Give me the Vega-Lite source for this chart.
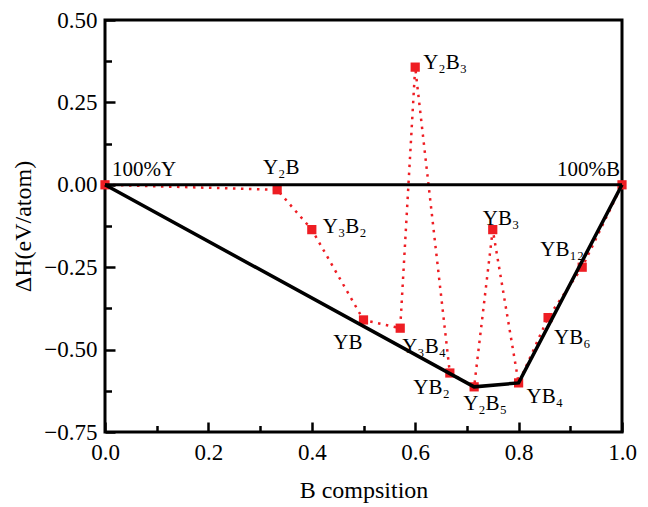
{
  "$schema": "https://vega.github.io/schema/vega-lite/v6.json",
  "autosize": {"type": "none"},
  "padding": {"left": 105, "top": 20, "right": 26, "bottom": 75},
  "width": 517,
  "height": 412,
  "background": "white",
  "config": {
    "view": {"stroke": "black", "strokeWidth": 3},
    "font": "Liberation Serif",
    "axis": {
      "grid": false,
      "domain": false,
      "labelFlush": false,
      "labelOverlap": false,
      "labelFont": "Liberation Serif",
      "labelFontSize": 23,
      "labelColor": "black",
      "titleFont": "Liberation Serif",
      "titleFontSize": 24,
      "titleFontWeight": "normal",
      "titleColor": "black"
    }
  },
  "datasets": {
    "pts": [
      {"i": 0, "name": "100%Y", "b": 0.0, "h": 0.0},
      {"i": 1, "name": "Y₂B", "b": 0.333, "h": -0.015},
      {"i": 2, "name": "Y₃B₂", "b": 0.4, "h": -0.136},
      {"i": 3, "name": "YB", "b": 0.5, "h": -0.41},
      {"i": 4, "name": "Y₃B₄", "b": 0.571, "h": -0.435},
      {"i": 5, "name": "Y₂B₃", "b": 0.6, "h": 0.357},
      {"i": 6, "name": "YB₂", "b": 0.667, "h": -0.571},
      {"i": 7, "name": "Y₂B₅", "b": 0.714, "h": -0.613},
      {"i": 8, "name": "YB₃", "b": 0.75, "h": -0.136},
      {"i": 9, "name": "YB₄", "b": 0.8, "h": -0.601},
      {"i": 10, "name": "YB₆", "b": 0.857, "h": -0.403},
      {"i": 11, "name": "YB₁₂", "b": 0.923, "h": -0.25},
      {"i": 12, "name": "100%B", "b": 1.0, "h": 0.0}
    ],
    "hull": [
      {"i": 0, "b": 0.0, "h": 0.0},
      {"i": 1, "b": 0.714, "h": -0.613},
      {"i": 2, "b": 0.8, "h": -0.601},
      {"i": 3, "b": 1.0, "h": 0.0}
    ]
  },
  "resolve": {"axis": {"x": "independent", "y": "independent"}},
  "layer": [
    {
      "data": {"name": "pts"},
      "mark": {"type": "line", "color": "#ee1d23", "strokeWidth": 2.5, "strokeDash": [2.5, 5.5], "clip": true},
      "encoding": {
        "x": {"field": "b", "type": "quantitative",
              "scale": {"domain": [0, 1], "nice": false, "zero": false},
              "axis": {"orient": "bottom", "zindex": 1, "values": [0, 0.2, 0.4, 0.6, 0.8, 1.0], "format": ".1f", "offset": -10, "ticks": true, "tickSize": 10, "tickWidth": 2.5, "tickColor": "black", "labelPadding": 9, "title": "B compsition", "titlePadding": 14}},
        "y": {"field": "h", "type": "quantitative",
              "scale": {"domain": [-0.75, 0.5], "nice": false, "zero": false},
              "axis": {"orient": "left", "zindex": 1, "values": [-0.75, -0.5, -0.25, 0, 0.25, 0.5], "format": ".2f", "offset": -10, "ticks": true, "tickSize": 10, "tickWidth": 2.5, "tickColor": "black", "labelPadding": 8, "title": "ΔH(eV/atom)", "titlePadding": 8}},
        "order": {"field": "i", "type": "quantitative"}
      }
    },
    {
      "data": {"name": "pts"},
      "mark": {"type": "square", "color": "#ee1d23", "opacity": 1, "size": 85},
      "encoding": {
        "x": {"field": "b", "type": "quantitative", "axis": null},
        "y": {"field": "h", "type": "quantitative", "axis": null}
      }
    },
    {
      "data": {"name": "hull"},
      "mark": {"type": "line", "color": "black", "strokeWidth": 3.5},
      "encoding": {
        "x": {"field": "b", "type": "quantitative",
              "axis": {"orient": "bottom", "zindex": 1, "values": [0.1, 0.3, 0.5, 0.7, 0.9], "labels": false, "ticks": true, "tickSize": 6.5, "tickWidth": 2.5, "tickColor": "black", "offset": -6.5, "title": null}},
        "y": {"field": "h", "type": "quantitative",
              "axis": {"orient": "left", "zindex": 1, "values": [-0.625, -0.375, -0.125, 0.125, 0.375], "labels": false, "ticks": true, "tickSize": 6.5, "tickWidth": 2.5, "tickColor": "black", "offset": -6.5, "title": null}},
        "order": {"field": "i", "type": "quantitative"}
      }
    },
    {
      "data": {"values": [{"h": 0}]},
      "mark": {"type": "rule", "color": "black", "strokeWidth": 3},
      "encoding": {
        "y": {"field": "h", "type": "quantitative", "axis": null}
      }
    },
    {
      "data": {"name": "pts"},
      "transform": [{"filter": {"field": "name", "equal": "100%Y"}}],
      "mark": {"type": "text", "align": "left", "baseline": "middle", "dx": 7, "dy": -15, "fontSize": 21, "color": "black"},
      "encoding": {"x": {"field": "b", "type": "quantitative", "axis": null}, "y": {"field": "h", "type": "quantitative", "axis": null}, "text": {"field": "name"}}
    },
    {
      "data": {"name": "pts"},
      "transform": [{"filter": {"field": "name", "equal": "100%B"}}],
      "mark": {"type": "text", "align": "right", "baseline": "middle", "dx": -2, "dy": -15, "fontSize": 21, "color": "black"},
      "encoding": {"x": {"field": "b", "type": "quantitative", "axis": null}, "y": {"field": "h", "type": "quantitative", "axis": null}, "text": {"field": "name"}}
    },
    {
      "data": {"name": "pts"},
      "transform": [{"filter": {"field": "name", "equal": "Y₂B"}}],
      "mark": {"type": "text", "align": "center", "baseline": "middle", "dx": 4, "dy": -22, "fontSize": 21, "color": "black"},
      "encoding": {"x": {"field": "b", "type": "quantitative", "axis": null}, "y": {"field": "h", "type": "quantitative", "axis": null}, "text": {"field": "name"}}
    },
    {
      "data": {"name": "pts"},
      "transform": [{"filter": {"field": "name", "equal": "Y₃B₂"}}],
      "mark": {"type": "text", "align": "left", "baseline": "middle", "dx": 11, "dy": -3, "fontSize": 21, "color": "black"},
      "encoding": {"x": {"field": "b", "type": "quantitative", "axis": null}, "y": {"field": "h", "type": "quantitative", "axis": null}, "text": {"field": "name"}}
    },
    {
      "data": {"name": "pts"},
      "transform": [{"filter": {"field": "name", "equal": "Y₂B₃"}}],
      "mark": {"type": "text", "align": "left", "baseline": "middle", "dx": 8, "dy": -4, "fontSize": 21, "color": "black"},
      "encoding": {"x": {"field": "b", "type": "quantitative", "axis": null}, "y": {"field": "h", "type": "quantitative", "axis": null}, "text": {"field": "name"}}
    },
    {
      "data": {"name": "pts"},
      "transform": [{"filter": {"field": "name", "equal": "YB₃"}}],
      "mark": {"type": "text", "align": "left", "baseline": "middle", "dx": -10, "dy": -11, "fontSize": 21, "color": "black"},
      "encoding": {"x": {"field": "b", "type": "quantitative", "axis": null}, "y": {"field": "h", "type": "quantitative", "axis": null}, "text": {"field": "name"}}
    },
    {
      "data": {"name": "pts"},
      "transform": [{"filter": {"field": "name", "equal": "YB₁₂"}}],
      "mark": {"type": "text", "align": "right", "baseline": "middle", "dx": 2, "dy": -17, "fontSize": 21, "color": "black"},
      "encoding": {"x": {"field": "b", "type": "quantitative", "axis": null}, "y": {"field": "h", "type": "quantitative", "axis": null}, "text": {"field": "name"}}
    },
    {
      "data": {"name": "pts"},
      "transform": [{"filter": {"field": "name", "equal": "YB"}}],
      "mark": {"type": "text", "align": "right", "baseline": "middle", "dx": -1, "dy": 23, "fontSize": 21, "color": "black"},
      "encoding": {"x": {"field": "b", "type": "quantitative", "axis": null}, "y": {"field": "h", "type": "quantitative", "axis": null}, "text": {"field": "name"}}
    },
    {
      "data": {"name": "pts"},
      "transform": [{"filter": {"field": "name", "equal": "Y₃B₄"}}],
      "mark": {"type": "text", "align": "left", "baseline": "middle", "dx": 2, "dy": 19, "fontSize": 21, "color": "black"},
      "encoding": {"x": {"field": "b", "type": "quantitative", "axis": null}, "y": {"field": "h", "type": "quantitative", "axis": null}, "text": {"field": "name"}}
    },
    {
      "data": {"name": "pts"},
      "transform": [{"filter": {"field": "name", "equal": "YB₂"}}],
      "mark": {"type": "text", "align": "right", "baseline": "middle", "dx": 0, "dy": 15, "fontSize": 21, "color": "black"},
      "encoding": {"x": {"field": "b", "type": "quantitative", "axis": null}, "y": {"field": "h", "type": "quantitative", "axis": null}, "text": {"field": "name"}}
    },
    {
      "data": {"name": "pts"},
      "transform": [{"filter": {"field": "name", "equal": "Y₂B₅"}}],
      "mark": {"type": "text", "align": "left", "baseline": "middle", "dx": -11, "dy": 17, "fontSize": 21, "color": "black"},
      "encoding": {"x": {"field": "b", "type": "quantitative", "axis": null}, "y": {"field": "h", "type": "quantitative", "axis": null}, "text": {"field": "name"}}
    },
    {
      "data": {"name": "pts"},
      "transform": [{"filter": {"field": "name", "equal": "YB₄"}}],
      "mark": {"type": "text", "align": "left", "baseline": "middle", "dx": 8, "dy": 14, "fontSize": 21, "color": "black"},
      "encoding": {"x": {"field": "b", "type": "quantitative", "axis": null}, "y": {"field": "h", "type": "quantitative", "axis": null}, "text": {"field": "name"}}
    },
    {
      "data": {"name": "pts"},
      "transform": [{"filter": {"field": "name", "equal": "YB₆"}}],
      "mark": {"type": "text", "align": "left", "baseline": "middle", "dx": 6, "dy": 20, "fontSize": 21, "color": "black"},
      "encoding": {"x": {"field": "b", "type": "quantitative", "axis": null}, "y": {"field": "h", "type": "quantitative", "axis": null}, "text": {"field": "name"}}
    }
  ]
}
